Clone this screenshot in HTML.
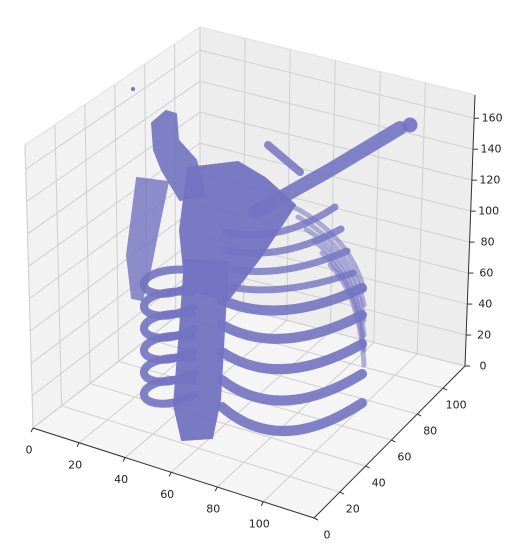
<!DOCTYPE html>
<html><head><meta charset="utf-8"><style>
html,body{margin:0;padding:0;background:#fff;}
svg{display:block;font-family:"DejaVu Sans","Liberation Sans",sans-serif;}
</style></head><body>
<svg id="chart" width="526" height="558" viewBox="0 0 526 558" xmlns="http://www.w3.org/2000/svg">
<g id="panes"></g>
<g id="grid"></g>
<g id="axes"></g>
<g id="skel" fill="#7373c2" stroke="#7373c2" stroke-linejoin="round" stroke-linecap="round"></g>
</svg>
<script>
const xTicks=[0,20,40,60,80,100];
const yTicks=[0,20,40,60,80,100];
const zTicks=[0,20,40,60,80,100,120,140,160];
const xMax=122, yMax=117, zMax=175;
const C={L0:[33,428],F0:[314,518],R0:[465,366],B0:[200,298],L1:[25,145],F1:[314,218],R1:[475,95],B1:[200,27]};
function lerp(a,b,t){return [a[0]+(b[0]-a[0])*t,a[1]+(b[1]-a[1])*t];}
function P(x,y,z){const u=x/xMax,v=y/yMax,w=z/zMax;
 const b=lerp(lerp(C.L0,C.F0,u),lerp(C.B0,C.R0,u),v);
 const t=lerp(lerp(C.L1,C.F1,u),lerp(C.B1,C.R1,u),v);
 return lerp(b,t,w);}
const NS='http://www.w3.org/2000/svg';
function mk(tag,parent,attrs){const e=document.createElementNS(NS,tag);for(const k in attrs)e.setAttribute(k,attrs[k]);parent.appendChild(e);return e;}
const panes=document.getElementById('panes'),grid=document.getElementById('grid'),axes=document.getElementById('axes'),skel=document.getElementById('skel');
function poly(pts){return pts.map(p=>p[0].toFixed(1)+','+p[1].toFixed(1)).join(' ');}
let e;
e=mk('polygon',panes,{points:poly([P(0,0,0),P(0,yMax,0),P(0,yMax,zMax),P(0,0,zMax)]),fill:'#f2f2f2',stroke:'#e0e0e0'});

e=mk('polygon',panes,{points:poly([P(0,yMax,0),P(xMax,yMax,0),P(xMax,yMax,zMax),P(0,yMax,zMax)]),fill:'#ededed',stroke:'#e0e0e0'});

e=mk('polygon',panes,{points:poly([P(0,0,0),P(xMax,0,0),P(xMax,yMax,0),P(0,yMax,0)]),fill:'#f5f5f5',stroke:'#e0e0e0'});

function line(g,a,b,st,w,name){const l=mk('line',g,{x1:a[0],y1:a[1],x2:b[0],y2:b[1],stroke:st,'stroke-width':w});return l;}
const gc='#cfcfcf';
xTicks.forEach(x=>{line(grid,P(x,0,0),P(x,yMax,0),gc,1,'x-grid-floor');line(grid,P(x,yMax,0),P(x,yMax,zMax),gc,1,'x-grid-back');});
yTicks.forEach(y=>{line(grid,P(0,y,0),P(xMax,y,0),gc,1,'y-grid-floor');line(grid,P(0,y,0),P(0,y,zMax),gc,1,'y-grid-left');});
zTicks.forEach(z=>{line(grid,P(0,0,z),P(0,yMax,z),gc,1,'z-grid-left');line(grid,P(0,yMax,z),P(xMax,yMax,z),gc,1,'z-grid-back');});
line(axes,P(0,0,0),P(xMax,0,0),'#333',1,'x-axis-line');
line(axes,P(xMax,0,0),P(xMax,yMax,0),'#333',1,'y-axis-line');
line(axes,P(xMax,yMax,0),P(xMax,yMax,zMax),'#333',1,'z-axis-line');
function txt(p,s,name){const t=mk('text',axes,{x:p[0].toFixed(1),y:p[1].toFixed(1),'font-size':'11','text-anchor':'middle','dominant-baseline':'central',fill:'#222'});t.textContent=s;}
xTicks.forEach(x=>{const p=P(x,0,0);line(axes,p,[p[0]-2,p[1]+4],'#333',1,'x-tick');txt([p[0]-4,p[1]+22],x,'x-tick-label');});
yTicks.forEach(y=>{const p=P(xMax,y,0);line(axes,p,[p[0]+4,p[1]+2],'#333',1,'y-tick');txt([p[0]+13,p[1]+17],y,'y-tick-label');});
zTicks.forEach(z=>{const p=P(xMax,yMax,z);line(axes,p,[p[0]+5,p[1]],'#333',1,'z-tick');txt([p[0]+18,p[1]],z,'z-tick-label');});
function shape(tag,attrs,name){const s=mk(tag,skel,attrs);return s;}
[0,1,2,3,4,5].forEach(i=>{
 shape('path',{d:`M${290+i*8},${205+i*12} Q${350+i*2},${235+i*12} ${364},${290+i*15}`,fill:'none','stroke-width':5,opacity:0.55},'back-rib');
});
[0,1,2,3].forEach(i=>{const y=232+i*18;
 shape('path',{d:`M225,${y} Q280,${y+12} ${335+i*6},${y-25+i*4}`,fill:'none','stroke-width':7,opacity:0.8},'upper-right-rib');
});
const ribLevels=[300,325,352,380,407];
ribLevels.forEach((y,i)=>{
 shape('path',{d:`M222,${y} Q280,${y+26+i*6} 362,${y-12+i*2}`,fill:'none','stroke-width':10,opacity:0.9},'right-rib');
});
[270,292,314,336,358,380].forEach((y,i)=>{
 shape('path',{d:`M192,${y} C145,${y-4} 132,${y+18} 155,${y+23} C170,${y+26} 182,${y+20} 194,${y+15}`,fill:'none','stroke-width':8,opacity:0.9},'left-rib');
});
shape('polygon',{points:'188,168 238,162 265,178 295,205 262,255 228,300 186,290 180,230','stroke-width':2,opacity:0.95},'upper-torso-mass');
shape('polygon',{points:'185,260 228,262 224,330 220,400 212,438 182,440 174,405 180,330','stroke-width':2,opacity:0.95},'spine');
shape('path',{d:'M255,212 L330,170 L400,128',fill:'none','stroke-width':14,opacity:0.9},'humerus');
shape('circle',{cx:410,cy:125,r:7,opacity:0.9},'humerus-head');
shape('path',{d:'M268,145 L300,172',fill:'none','stroke-width':8,opacity:0.85},'right-clavicle');
shape('polygon',{points:'152,123 166,111 176,114 178,140 196,160 205,195 180,200 162,170 154,150','stroke-width':2,opacity:0.9},'left-shoulder');
shape('polygon',{points:'137,178 168,182 160,220 150,270 142,300 132,298 127,255','stroke-width':2,opacity:0.8},'left-scapula');
shape('circle',{cx:133,cy:89,r:1.5},'stray-voxel');
</script>
</body></html>
